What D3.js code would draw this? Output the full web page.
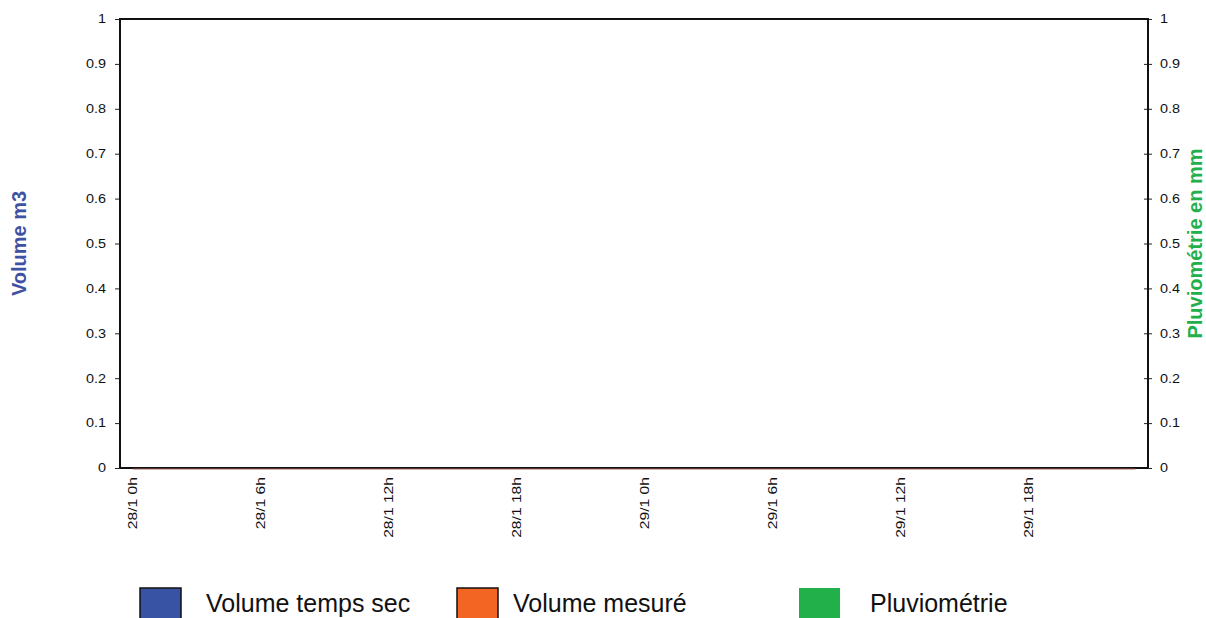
<!DOCTYPE html>
<html>
<head>
<meta charset="utf-8">
<script src="https://cdn.jsdelivr.net/npm/d3@7"></script>
<style>
  html, body { margin: 0; padding: 0; background: #fff; }
  svg { display: block; font-family: "Liberation Sans", Arial, sans-serif; }
</style>
</head>
<body>
<svg id="chart" width="1206" height="618"></svg>
<script>
// Hourly time steps over two days (28/1 0h .. 29/1 23h)
const hours = [
  "28/1 0h","28/1 1h","28/1 2h","28/1 3h","28/1 4h","28/1 5h",
  "28/1 6h","28/1 7h","28/1 8h","28/1 9h","28/1 10h","28/1 11h",
  "28/1 12h","28/1 13h","28/1 14h","28/1 15h","28/1 16h","28/1 17h",
  "28/1 18h","28/1 19h","28/1 20h","28/1 21h","28/1 22h","28/1 23h",
  "29/1 0h","29/1 1h","29/1 2h","29/1 3h","29/1 4h","29/1 5h",
  "29/1 6h","29/1 7h","29/1 8h","29/1 9h","29/1 10h","29/1 11h",
  "29/1 12h","29/1 13h","29/1 14h","29/1 15h","29/1 16h","29/1 17h",
  "29/1 18h","29/1 19h","29/1 20h","29/1 21h","29/1 22h","29/1 23h"
];
// Labelled time steps on the horizontal axis
const tickHours = ["28/1 0h","28/1 6h","28/1 12h","28/1 18h","29/1 0h","29/1 6h","29/1 12h","29/1 18h"];

// Series values (m3 and mm)
const volumeTempsSec = [0,0,0,0,0,0,0,0,0,0,0,0,0,0,0,0,0,0,0,0,0,0,0,0,0,0,0,0,0,0,0,0,0,0,0,0,0,0,0,0,0,0,0,0,0,0,0,0];
const volumeMesure   = [0,0,0,0,0,0,0,0,0,0,0,0,0,0,0,0,0,0,0,0,0,0,0,0,0,0,0,0,0,0,0,0,0,0,0,0,0,0,0,0,0,0,0,0,0,0,0,0];
const pluviometrie   = [0,0,0,0,0,0,0,0,0,0,0,0,0,0,0,0,0,0,0,0,0,0,0,0,0,0,0,0,0,0,0,0,0,0,0,0,0,0,0,0,0,0,0,0,0,0,0,0];

// Axis ticks
const volumeTicks = [0,0.1,0.2,0.3,0.4,0.5,0.6,0.7,0.8,0.9,1];
const pluieTicks  = [0,0.1,0.2,0.3,0.4,0.5,0.6,0.7,0.8,0.9,1];

const colors = { sec: "#3953a4", mesure: "#f26522", pluie: "#22b04b" };

const svg = d3.select("#chart");
const plot = { left: 120, right: 1148, top: 19, bottom: 468 };

const x = d3.scaleBand().domain(hours).range([plot.left, plot.right]).padding(0.2);
const yL = d3.scaleLinear().domain([0, 1]).range([plot.bottom, plot.top]);
const yR = d3.scaleLinear().domain([0, 1]).range([plot.bottom, plot.top]);
const cx = d => x(d) + x.bandwidth() / 2;

// Widen a text element along its own direction
function stretch(sel, k) {
  sel.each(function () {
    const len = this.getComputedTextLength();
    d3.select(this).attr("textLength", len * k).attr("lengthAdjust", "spacingAndGlyphs");
  });
}

// Rainfall bars on the right axis
svg.append("g").selectAll("rect")
  .data(hours.map((h, i) => ({ h, v: pluviometrie[i] })))
  .join("rect")
  .attr("x", d => x(d.h))
  .attr("width", x.bandwidth())
  .attr("y", d => yR(d.v))
  .attr("height", d => yR(0) - yR(d.v))
  .attr("fill", colors.pluie);

// Left axis
const axL = svg.append("g")
  .attr("transform", `translate(${plot.left},0)`)
  .call(d3.axisLeft(yL).tickValues(volumeTicks).tickSize(5).tickPadding(9).tickFormat(d3.format("~g")));
axL.select(".domain").remove();
axL.selectAll("line").attr("stroke", "#222");
axL.selectAll("text").attr("font-size", 12).attr("fill", "#111")
  .attr("font-family", "'Liberation Sans', Arial, sans-serif").call(stretch, 1.2);

// Right axis (ticks cross the axis line)
const axR = svg.append("g")
  .attr("transform", `translate(${plot.right},0)`)
  .call(d3.axisRight(yR).tickValues(pluieTicks).tickSize(4).tickPadding(8).tickFormat(d3.format("~g")));
axR.select(".domain").remove();
axR.selectAll("line").attr("x1", -4).attr("stroke", "#222");
axR.selectAll("text").attr("font-size", 12).attr("fill", "#111")
  .attr("font-family", "'Liberation Sans', Arial, sans-serif").call(stretch, 1.2);

// Frame
const frame = svg.append("g").attr("fill", "none").attr("stroke", "#111").attr("stroke-width", 2);
frame.append("path").attr("d", `M${plot.left},${plot.bottom}V${plot.top}H${plot.right}V${plot.bottom}`);
frame.append("line").attr("x1", plot.left).attr("x2", plot.right)
  .attr("y1", plot.bottom).attr("y2", plot.bottom);

// Volume lines
const line = d3.line().x(d => cx(d.h)).y(d => yL(d.v));
[[volumeTempsSec, colors.sec], [volumeMesure, colors.mesure]].forEach(([vals, c]) => {
  svg.append("path")
    .datum(hours.map((h, i) => ({ h, v: vals[i] })))
    .attr("fill", "none")
    .attr("stroke", c)
    .attr("stroke-width", 1.2)
    .attr("opacity", 0.55)
    .attr("transform", "translate(0,1)")
    .attr("d", line);
});

// Rotated time labels
svg.append("g").selectAll("text")
  .data(tickHours)
  .join("text")
  .attr("transform", d => `translate(${cx(d)},${plot.bottom + 9}) rotate(-90)`)
  .attr("dy", "0.35em")
  .attr("text-anchor", "end")
  .attr("font-size", 12.5)
  .attr("fill", "#111")
  .text(d => d)
  .call(stretch, 1.25);

// Axis titles
svg.append("text")
  .attr("transform", `translate(26,${(plot.top + plot.bottom) / 2}) rotate(-90)`)
  .attr("text-anchor", "middle")
  .attr("font-size", 20).attr("font-weight", "bold")
  .attr("fill", "#3f51a3")
  .text("Volume m3");

svg.append("text")
  .attr("transform", `translate(1202,${(plot.top + plot.bottom) / 2}) rotate(-90)`)
  .attr("text-anchor", "middle")
  .attr("font-size", 20).attr("font-weight", "bold")
  .attr("fill", colors.pluie)
  .text("Pluviométrie en mm");

// Legend
const legendItems = [
  { label: "Volume temps sec", color: colors.sec, x: 140, tx: 206, border: true },
  { label: "Volume mesuré", color: colors.mesure, x: 457, tx: 513, border: true },
  { label: "Pluviométrie", color: colors.pluie, x: 799, tx: 870, border: false }
];
const lg = svg.append("g");
legendItems.forEach(it => {
  lg.append("rect")
    .attr("x", it.x).attr("y", 588)
    .attr("width", 41).attr("height", 41)
    .attr("fill", it.color)
    .attr("stroke", it.border ? "#111" : "none")
    .attr("stroke-width", 1.5);
  lg.append("text")
    .attr("x", it.tx).attr("y", 612)
    .attr("font-size", 25)
    .attr("fill", "#111")
    .text(it.label);
});
</script>
</body>
</html>
